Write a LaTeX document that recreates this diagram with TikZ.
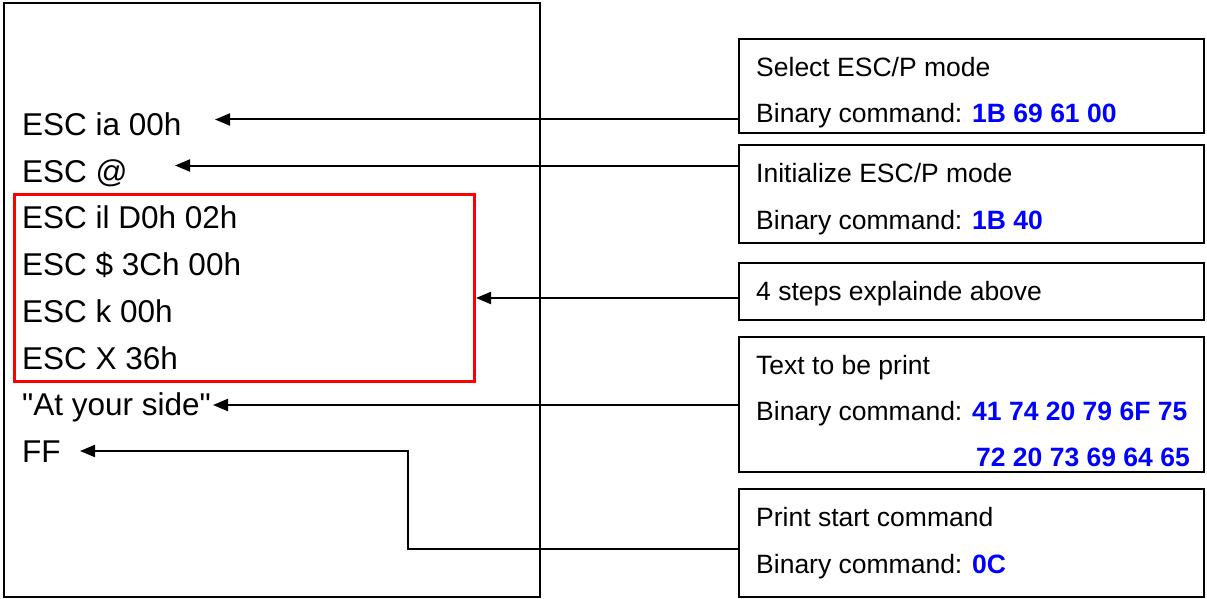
\documentclass[tikz,border=0pt]{standalone}
\usepackage{fontspec}
\setmainfont{Liberation Sans}
\newfontfamily\cmdfont{Liberation Sans}
\usetikzlibrary{arrows.meta,positioning}
\definecolor{codeColor}{RGB}{0,0,255}
\definecolor{frameColor}{RGB}{255,0,0}
\tikzset{cmdline/.style={anchor=base west, inner sep=0pt, font=\cmdfont\fontsize{31.5}{36}\selectfont}}
\tikzset{infobox/.style={draw, line width=2pt, minimum width=465pt, inner sep=0pt, outer sep=0pt, anchor=north west}}
\tikzset{infotext/.style={anchor=base west, inner sep=0pt, font=\fontsize{26.5}{32}\selectfont}}
\tikzset{cmdarrow/.style={line width=2pt, -{Triangle[length=15pt,width=12pt]}}}
\newcommand{\code}[1]{\textbf{\textcolor{codeColor}{#1}}}

\begin{document}
\begin{tikzpicture}[x=1pt, y=-1pt]
\useasboundingbox (0,0) rectangle (1207,599);
% Nodes
\node (page) [draw, line width=2pt, minimum width=536pt, minimum height=594pt, inner sep=0pt, outer sep=0pt, anchor=north west] at (4,3) {};

\node (escIA) [cmdline] at (22,135.5) {ESC ia 00h};
\node (escAt) [cmdline] at ([yshift=-46.7pt]escIA.base west) {ESC @};
\node (escIL) [cmdline] at ([yshift=-46.7pt]escAt.base west) {ESC il D0h 02h};
\node (escDollar) [cmdline] at ([yshift=-46.7pt]escIL.base west) {ESC \$ 3Ch 00h};
\node (escK) [cmdline] at ([yshift=-46.7pt]escDollar.base west) {ESC k 00h};
\node (escX) [cmdline] at ([yshift=-46.7pt]escK.base west) {ESC X 36h};
\node (sideText) [cmdline] at ([yshift=-46.7pt]escX.base west) {"At your side"};
\node (escFF) [cmdline] at ([yshift=-46.7pt]sideText.base west) {FF};

\node (stepsFrame) [draw=frameColor, line width=3pt, minimum width=460pt, minimum height=187pt, inner sep=0pt, outer sep=0pt, anchor=north west] at (14,194) {};

\node (selectBox) [infobox, minimum height=94pt] at (739,39) {};
\node (initBox) [infobox, minimum height=98pt, below=12pt of selectBox.south west, anchor=north west] {};
\node (stepsBox) [infobox, minimum height=57pt, below=20pt of initBox.south west, anchor=north west] {};
\node (textBox) [infobox, minimum height=135pt, below=17pt of stepsBox.south west, anchor=north west] {};
\node (printBox) [infobox, minimum height=108pt, below=17pt of textBox.south west, anchor=north west] {};

\node (selectTitle) [infotext] at ([shift={(17pt,-37.5pt)}]selectBox.north west) {Select ESC/P mode};
\node (selectCode) [infotext] at ([yshift=-46.5pt]selectTitle.base west) {Binary command: \code{1B 69 61 00}};
\node (initTitle) [infotext] at ([shift={(17pt,-37.5pt)}]initBox.north west) {Initialize ESC/P mode};
\node (initCode) [infotext] at ([yshift=-46.5pt]initTitle.base west) {Binary command: \code{1B 40}};
\node (stepsTitle) [infotext] at ([shift={(17pt,-37.5pt)}]stepsBox.north west) {4 steps explainde above};
\node (textTitle) [infotext] at ([shift={(17pt,-37.5pt)}]textBox.north west) {Text to be print};
\node (textCode) [infotext] at ([yshift=-46pt]textTitle.base west) {Binary command: \code{41 74 20 79 6F 75}};
\node (textCodeMore) [infotext, anchor=base east] at ([shift={(-14pt,-129.5pt)}]textBox.north east) {\code{72 20 73 69 64 65}};
\node (printTitle) [infotext] at ([shift={(17pt,-37.5pt)}]printBox.north west) {Print start command};
\node (printCode) [infotext] at ([yshift=-46.5pt]printTitle.base west) {Binary command: \code{0C}};

\coordinate (tipIA) at (215,119.5);
\coordinate (tipAt) at (175,165.5);
\coordinate (tipSteps) at (476,298);
\coordinate (tipSide) at (213,405);
\coordinate (tipFF) at (80,451);
\coordinate (bendFF) at (408,549);

% Connectors
\draw [cmdarrow] (selectBox.west |- tipIA) -- (tipIA);
\draw [cmdarrow] (initBox.west |- tipAt) -- (tipAt);
\draw [cmdarrow] (stepsBox.west |- tipSteps) -- (tipSteps);
\draw [cmdarrow] (textBox.west |- tipSide) -- (tipSide);
\draw [cmdarrow] (printBox.west |- bendFF) -- (bendFF) |- (tipFF);
\end{tikzpicture}
\end{document}
